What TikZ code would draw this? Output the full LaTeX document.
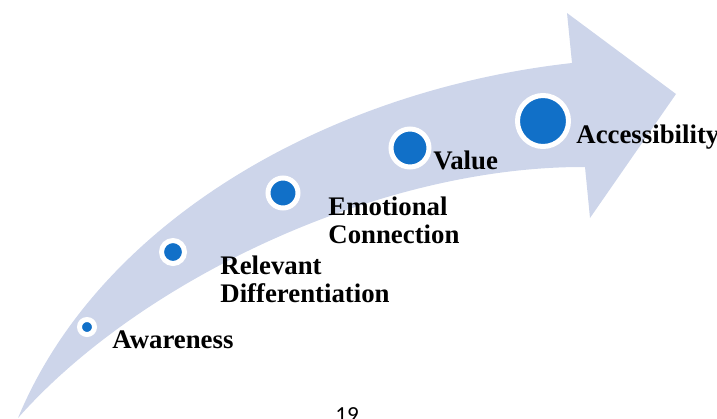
\documentclass[tikz,border=0pt]{standalone}
\usepackage{fontspec}
\setmainfont{Liberation Serif}
\newfontfamily\pagefont{Carlito}
\definecolor{bandblue}{RGB}{205,213,234}
\definecolor{dotblue}{RGB}{17,112,200}
\begin{document}
\begin{tikzpicture}[x=0.5pt,y=-0.5pt,
    dot/.style={circle, fill=dotblue, draw=white, line width=2.5pt, inner sep=0pt},
    lbl/.style={anchor=base west, inner sep=0pt, align=left, font=\fontsize{13.4}{14}\selectfont\bfseries}]
  \useasboundingbox (0,0) rectangle (717,418);
  % curved arrow
  \fill[bandblue] (18,418) .. controls (100,220) and (330,90) .. (572,63)
      -- (567,13) -- (676,94) -- (590,218) -- (585,167)
      .. controls (380,166) and (140,280) .. cycle;
  % steps
  \node[dot, minimum size=7.5pt] (aware) at (87,327) {};
  \node[dot, minimum size=11.5pt] (relev) at (173,252) {};
  \node[dot, minimum size=15pt] (emot) at (283,193) {};
  \node[dot, minimum size=19pt] (value) at (410,148) {};
  \node[dot, minimum size=25.5pt] (access) at (543,121) {};
  % labels (base = last line)
  \node[lbl] (awarelbl) at (112,348) {Awareness};
  \node[lbl] (relevlbl) at (220,302) {Relevant\\Differentiation};
  \node[lbl] (emotlbl) at (328,243) {Emotional\\Connection};
  \node[lbl] (valuelbl) at (433,169) {Value};
  \node[lbl] (accesslbl) at (576,143) {Accessibility};
  % page number
  \node[anchor=base, inner sep=0pt, font=\pagefont\fontsize{11.5}{12}\selectfont] (pagenum) at (347,422) {19};
\end{tikzpicture}
\end{document}
